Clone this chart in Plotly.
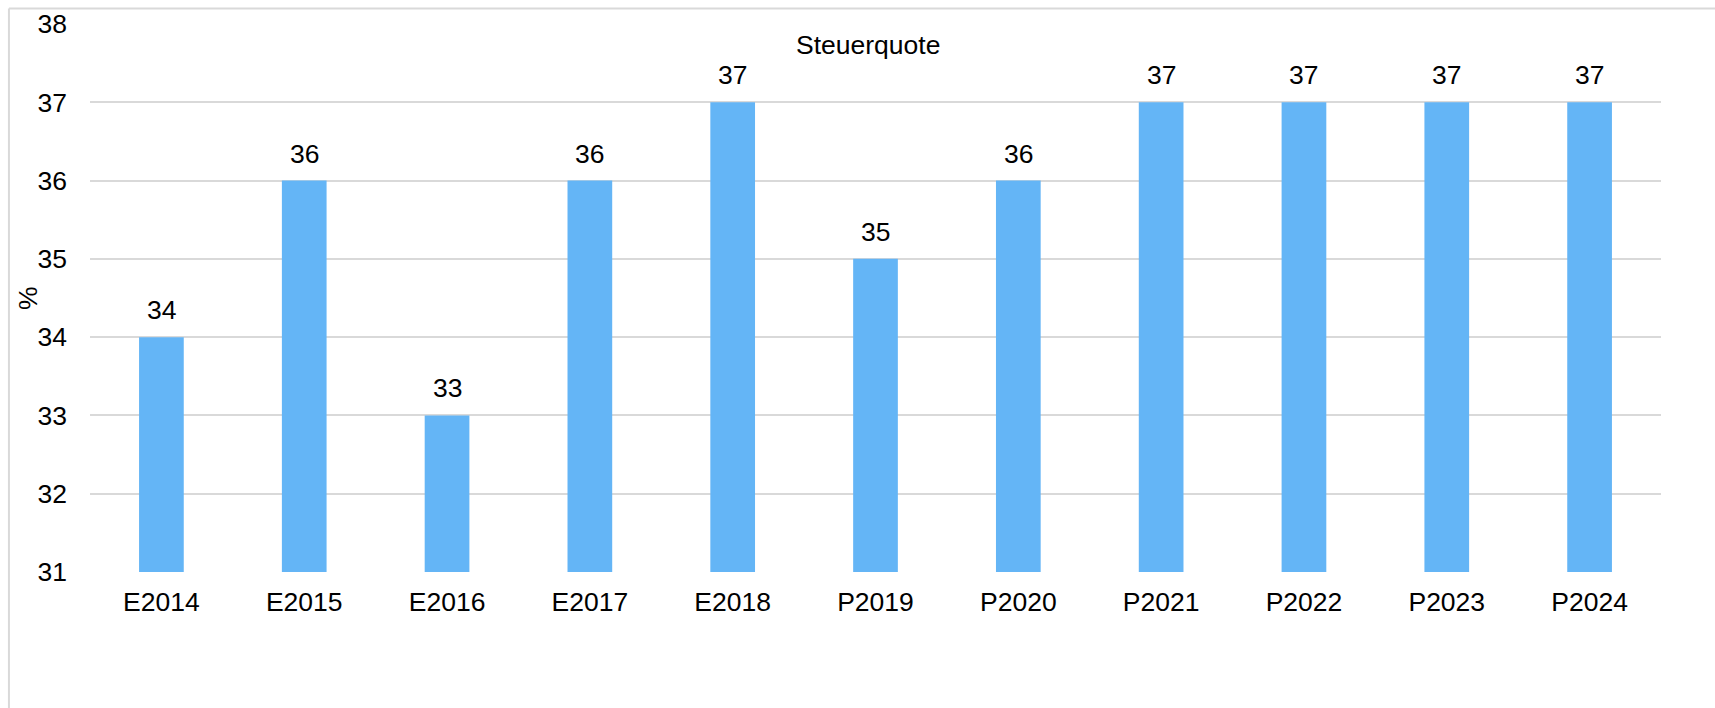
import plotly.graph_objects as go

# Steuerquote in Prozent, Ist- (E) und Planwerte (P)
jahre = ["E2014", "E2015", "E2016", "E2017", "E2018", "P2019",
         "P2020", "P2021", "P2022", "P2023", "P2024"]
steuerquote = [34, 36, 33, 36, 37, 35, 36, 37, 37, 37, 37]
y_ticks = [31, 32, 33, 34, 35, 36, 37, 38]

FONT = "Liberation Sans, Arial, sans-serif"
FS = 26.5
BAR = "#64B5F6"
GRID = "#d9d9d9"

fig = go.Figure()
fig.add_trace(go.Bar(
    x=jahre,
    y=steuerquote,
    marker=dict(color=BAR, line=dict(width=0)),
    hoverinfo="x+y",
))

# value labels above each bar
for j, v in zip(jahre, steuerquote):
    fig.add_annotation(
        x=j, y=v, xref="x", yref="y",
        text=str(v), showarrow=False,
        yanchor="bottom", yshift=10,
        font=dict(family=FONT, size=FS, color="#000000"),
    )

# chart title inside the plot area
fig.add_annotation(
    x=0.495, y=0.962, xref="paper", yref="paper",
    text="Steuerquote", showarrow=False,
    xanchor="center", yanchor="middle",
    font=dict(family=FONT, size=FS, color="#000000"),
)

# y-axis unit
fig.add_annotation(
    x=-0.0395, y=0.5, xref="paper", yref="paper",
    text="%", showarrow=False, textangle=-90,
    xanchor="center", yanchor="middle",
    font=dict(family=FONT, size=FS, color="#000000"),
)

# frame around the chart
fig.add_shape(type="line", xref="paper", yref="paper",
              x0=-0.0516, x1=-0.0516, y0=-0.4, y1=1.0283,
              line=dict(color=GRID, width=2))
fig.add_shape(type="line", xref="paper", yref="paper",
              x0=-0.0516, x1=1.1, y0=1.0283, y1=1.0283,
              line=dict(color=GRID, width=2))

fig.update_layout(
    width=1715, height=708,
    margin=dict(l=90, r=54, t=23.5, b=136.3),
    paper_bgcolor="white", plot_bgcolor="white",
    bargap=0.687,
    showlegend=False,
    font=dict(family=FONT, size=FS, color="#000000"),
    xaxis=dict(
        showgrid=False, showline=False, zeroline=False,
        ticks="", ticklabelstandoff=11, automargin=False,
        tickfont=dict(family=FONT, size=FS, color="#000000"),
    ),
    yaxis=dict(
        range=[31, 38], tickvals=y_ticks,
        showgrid=True, gridcolor=GRID, gridwidth=2,
        zeroline=False, showline=False, ticks="",
        ticklabelstandoff=22, automargin=False,
        tickfont=dict(family=FONT, size=FS, color="#000000"),
    ),
)

fig.write_html("out.html")
